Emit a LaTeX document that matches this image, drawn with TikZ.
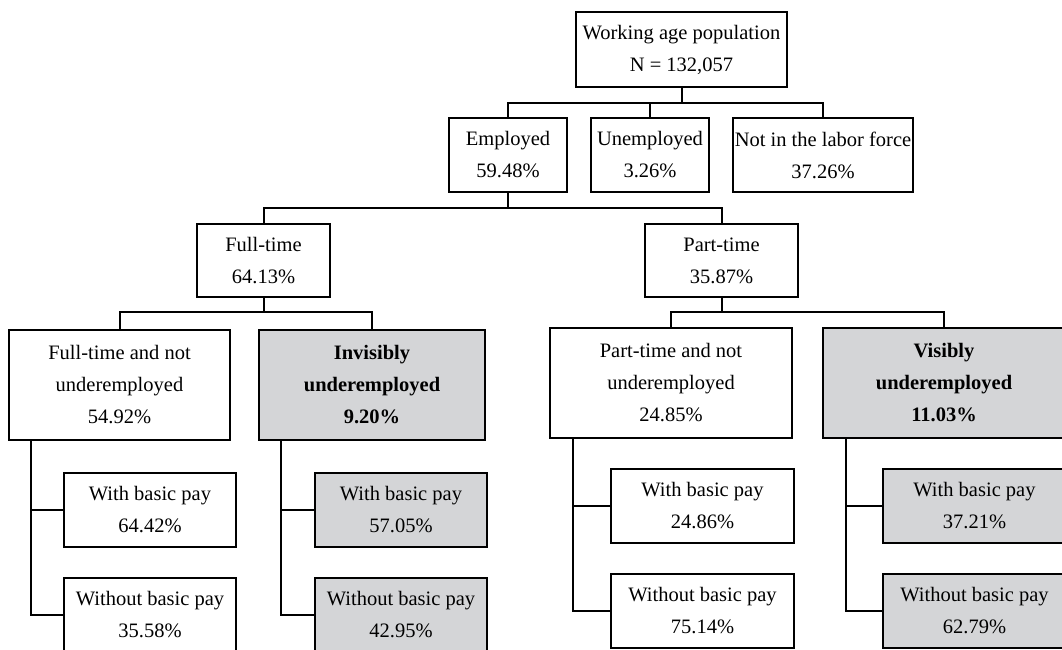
\documentclass[tikz,border=0pt]{standalone}
\usepackage{fontspec}
\setmainfont{Liberation Serif}
\usepackage{xcolor}
\usepackage{tikz}
\usetikzlibrary{positioning,calc}
\definecolor{shade}{RGB}{212,213,215}
\tikzset{
  cell/.style={rectangle,draw=black,line width=2pt,fill=white,inner sep=0pt,
              align=center,font=\fontsize{20.5}{32}\selectfont},
  hicell/.style={cell,fill=shade},
  link/.style={line width=2pt,draw=black},
}
\begin{document}
\begin{tikzpicture}[x=1pt,y=-1pt]
  \clip (0,0) rectangle (1062,649);
  \fill[white] (0,0) rectangle (1062,649);
  % top levels
  \node[cell,minimum width=211,minimum height=75] (pop) at (681.5,49.5) {Working age population\\N = 132,057};
  \node[cell,minimum width=118,minimum height=74] (emp) at (508,155) {Employed\\59.48\%};
  \node[cell,minimum width=118,minimum height=74] (unemp) at (650,155) {Unemployed\\3.26\%};
  \node[cell,minimum width=180,minimum height=74] (nilf) at (823,155) {Not in the labor force\\37.26\%};
  \node[cell,minimum width=133,minimum height=73] (ft) at (263.5,260.5) {Full-time\\64.13\%};
  \node[cell,minimum width=153,minimum height=73] (pt) at (721.5,260.5) {Part-time\\35.87\%};
  % third level
  \node[cell,minimum width=221,minimum height=110] (ftn) at (119.5,385) {Full-time and not\\underemployed\\54.92\%};
  \node[hicell,minimum width=226,minimum height=110] (inv) at (372,385) {\textbf{Invisibly}\\\textbf{underemployed}\\\textbf{9.20\%}};
  \node[cell,minimum width=242,minimum height=110] (ptn) at (671,383) {Part-time and not\\underemployed\\24.85\%};
  \node[hicell,minimum width=242,minimum height=110] (vis) at (944,383) {\textbf{Visibly}\\\textbf{underemployed}\\\textbf{11.03\%}};
  % pay split
  \node[cell,minimum width=172,minimum height=74] (ftnw) at (150,510) {With basic pay\\64.42\%};
  \node[cell,minimum width=172,minimum height=74] (ftnwo) at (150,615) {Without basic pay\\35.58\%};
  \node[hicell,minimum width=172,minimum height=74] (invw) at (401,510) {With basic pay\\57.05\%};
  \node[hicell,minimum width=172,minimum height=74] (invwo) at (401,615) {Without basic pay\\42.95\%};
  \node[cell,minimum width=183,minimum height=74] (ptnw) at (702.5,505.5) {With basic pay\\24.86\%};
  \node[cell,minimum width=183,minimum height=74] (ptnwo) at (702.5,611) {Without basic pay\\75.14\%};
  \node[hicell,minimum width=183,minimum height=74] (visw) at (974.5,505.5) {With basic pay\\37.21\%};
  \node[hicell,minimum width=183,minimum height=74] (viswo) at (974.5,611) {Without basic pay\\62.79\%};

  \coordinate (bar1) at (0,103);
  \coordinate (bar2) at (0,208);
  \coordinate (bar3) at (0,312);

  \draw[link] (pop.south) -- (pop.south |- bar1);
  \draw[link] (emp.north) -- (emp.north |- bar1) -| (nilf.north);
  \draw[link] (unemp.north) -- (unemp.north |- bar1);
  \draw[link] (emp.south) -- (emp.south |- bar2);
  \draw[link] (ft.north) -- (ft.north |- bar2) -| (pt.north);
  \draw[link] (ft.south) -- (ft.south |- bar3);
  \draw[link] (ftn.north) -- (ftn.north |- bar3) -| (inv.north);
  \draw[link] (pt.south) -- (pt.south |- bar3);
  \draw[link] (ptn.north) -- (ptn.north |- bar3) -| (vis.north);

  \draw[link] ($(ftn.south west)+(23,0)$) |- (ftnw.west);
  \draw[link] ($(ftn.south west)+(23,0)$) |- (ftnwo.west);
  \draw[link] ($(inv.south west)+(23,0)$) |- (invw.west);
  \draw[link] ($(inv.south west)+(23,0)$) |- (invwo.west);
  \draw[link] ($(ptn.south west)+(24,0)$) |- (ptnw.west);
  \draw[link] ($(ptn.south west)+(24,0)$) |- (ptnwo.west);
  \draw[link] ($(vis.south west)+(24,0)$) |- (visw.west);
  \draw[link] ($(vis.south west)+(24,0)$) |- (viswo.west);
\end{tikzpicture}
\end{document}
